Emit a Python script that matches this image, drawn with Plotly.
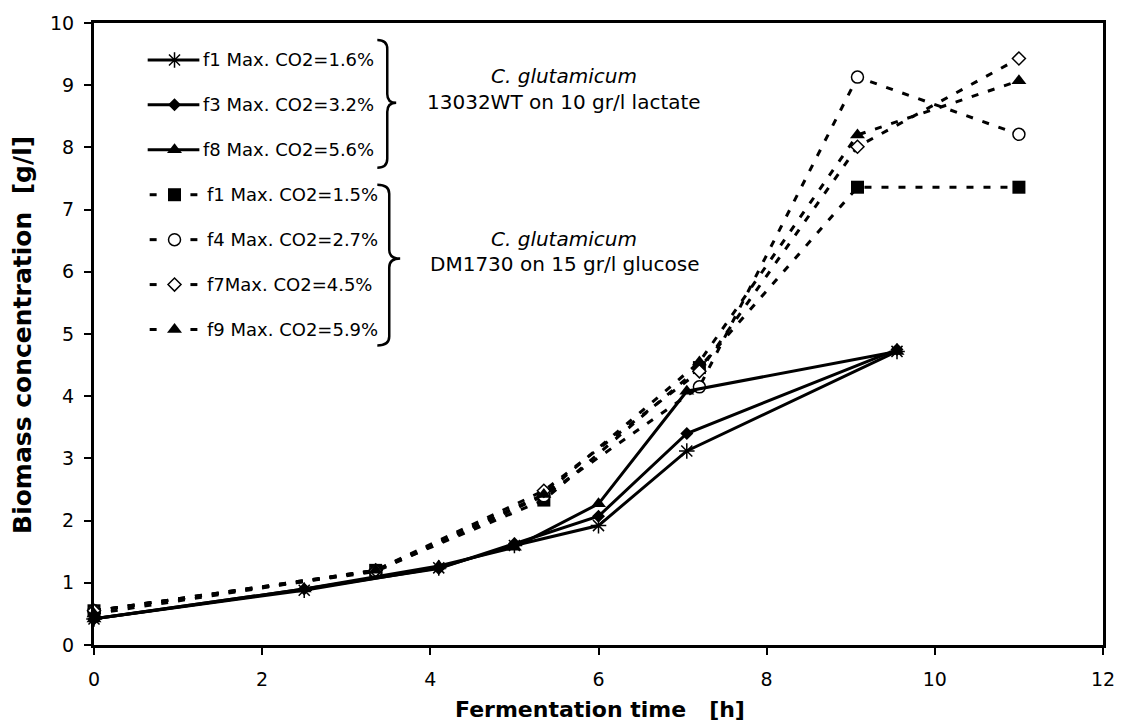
import plotly.graph_objects as go

# ---------------- data ----------------
lac_time = [0, 2.5, 4.1, 5.0, 6.0, 7.05, 9.55]
lac_f1 = [0.42, 0.88, 1.24, 1.60, 1.92, 3.12, 4.72]
lac_f3 = [0.42, 0.90, 1.23, 1.63, 2.07, 3.40, 4.75]
lac_f8 = [0.42, 0.90, 1.27, 1.57, 2.27, 4.08, 4.72]

glc_time = [0, 3.35, 5.35, 7.2, 9.08, 11.0]
glc_f1 = [0.55, 1.20, 2.33, 4.46, 7.36, 7.36]
glc_f4 = [0.55, 1.18, 2.40, 4.15, 9.13, 8.21]
glc_f7 = [0.55, 1.20, 2.48, 4.40, 8.01, 9.43]
glc_f9 = [0.50, 1.20, 2.42, 4.55, 8.20, 9.07]

lac_names = ["f1 Max. CO2=1.6%", "f3 Max. CO2=3.2%", "f8 Max. CO2=5.6%"]
glc_names = ["f1 Max. CO2=1.5%", "f4 Max. CO2=2.7%", "f7Max. CO2=4.5%", "f9 Max. CO2=5.9%"]
x_ticks = [0, 2, 4, 6, 8, 10, 12]
y_ticks = list(range(0, 11))

FONT = "DejaVu Sans, Arial, sans-serif"
W, H = 1127, 725
ML, MR, MT, MB = 94, 18, 22, 80
PW, PH = W - ML - MR, H - MT - MB


def px(x):
    return (x - ML) / PW


def py(y):
    return (H - MB - y) / PH


# marker styles
lac_markers = [
    dict(symbol="asterisk-open", size=13, color="black", line=dict(color="black", width=1.5)),
    dict(symbol="diamond", size=10, color="black", line=dict(color="black", width=0)),
    dict(symbol="triangle-up", size=13, color="black", line=dict(color="black", width=0)),
]
glc_markers = [
    dict(symbol="square", size=13, color="black", line=dict(color="black", width=0)),
    dict(symbol="circle", size=12, color="white", line=dict(color="black", width=1.5)),
    dict(symbol="diamond", size=10, color="white", line=dict(color="black", width=1.5)),
    dict(symbol="triangle-up", size=13, color="black", line=dict(color="black", width=0)),
]

fig = go.Figure()

glc_series = [glc_f1, glc_f4, glc_f7, glc_f9]
for name, ys, mk in zip(glc_names, glc_series, glc_markers):
    fig.add_trace(go.Scatter(
        x=glc_time, y=ys, mode="lines+markers", name=name, showlegend=False,
        line=dict(color="black", width=3, dash="7px,10px"), marker=mk, cliponaxis=False))

lac_series = [lac_f1, lac_f3, lac_f8]
for name, ys, mk in zip(lac_names, lac_series, lac_markers):
    fig.add_trace(go.Scatter(
        x=lac_time, y=ys, mode="lines+markers", name=name, showlegend=False,
        line=dict(color="black", width=3), marker=mk, cliponaxis=False))

# ---------------- manual legend (pixel overlay axes) ----------------
row0, step = 59, 45
sx0, sx1, smid = 148, 200, 175
annotations = []
all_names = lac_names + glc_names
all_markers = lac_markers + glc_markers
for i, (nm, mk) in enumerate(zip(all_names, all_markers)):
    yy = row0 + i * step
    if i < 3:
        lx = [sx0, sx1]
        ly = [yy, yy]
        tx = 202
    else:
        lx = [150, 157, None, 191, 198]
        ly = [yy, yy, None, yy, yy]
        tx = 206
    fig.add_trace(go.Scatter(x=lx, y=ly, xaxis="x2", yaxis="y2", mode="lines",
                             line=dict(color="black", width=3), showlegend=False,
                             hoverinfo="skip", cliponaxis=False))
    fig.add_trace(go.Scatter(x=[smid], y=[yy], xaxis="x2", yaxis="y2", mode="markers",
                             marker=mk, showlegend=False, hoverinfo="skip", cliponaxis=False))
    annotations.append(dict(x=px(tx), y=py(yy), xref="paper", yref="paper", text=nm,
                            showarrow=False, xanchor="left", yanchor="middle",
                            font=dict(family=FONT, size=18, color="black")))


def brace(x_end, x_stem, x_tip, y_top, y_mid, y_bot, r=9):
    return (f"M {x_end},{y_top} Q {x_stem},{y_top} {x_stem},{y_top + r} "
            f"L {x_stem},{y_mid - r} Q {x_stem},{y_mid} {x_tip},{y_mid} "
            f"Q {x_stem},{y_mid} {x_stem},{y_mid + r} "
            f"L {x_stem},{y_bot - r} Q {x_stem},{y_bot} {x_end},{y_bot}")


shapes = [
    dict(type="path", xref="x2", yref="y2", path=brace(379, 389, 398, 39, 102, 167),
         line=dict(color="black", width=2.5)),
    dict(type="path", xref="x2", yref="y2", path=brace(379, 391, 402, 184, 258, 345),
         line=dict(color="black", width=2.5)),
]

txt_font = dict(family=FONT, size=20, color="black")
group_text = [
    (75, "<i>C. glutamicum</i>"), (101, "13032WT on 10 gr/l lactate"),
    (238, "<i>C. glutamicum</i>"), (263, "DM1730 on 15 gr/l glucose"),
]
for yy, t in group_text:
    annotations.append(dict(x=px(567), y=py(yy), xref="paper", yref="paper", text=t,
                            showarrow=False, xanchor="center", yanchor="middle", font=txt_font))

# axis titles
annotations.append(dict(x=px(603), y=py(710), xref="paper", yref="paper",
                        text="<b>Fermentation time   [h]</b>",
                        showarrow=False, xanchor="center", yanchor="middle",
                        font=dict(family=FONT, size=22, color="black")))
annotations.append(dict(x=px(22), y=py(334), xref="paper", yref="paper",
                        text="<b>Biomass concentration  [g/l]</b>",
                        showarrow=False, xanchor="center", yanchor="middle", textangle=-90,
                        font=dict(family=FONT, size=25, color="black")))

fig.update_layout(
    width=W, height=H,
    margin=dict(l=ML, r=MR, t=MT, b=MB, pad=0),
    paper_bgcolor="white", plot_bgcolor="white",
    showlegend=False,
    xaxis=dict(range=[0, 12], tickvals=x_ticks, ticktext=[str(v) for v in x_ticks],
               showgrid=False, zeroline=False, showline=True, linecolor="black", linewidth=3,
               mirror=True, ticks="outside", ticklen=7, tickwidth=1.5, tickcolor="black",
               tickfont=dict(family=FONT, size=19, color="black"), ticklabelstandoff=8),
    yaxis=dict(range=[0, 10], tickvals=y_ticks, ticktext=[str(v) for v in y_ticks],
               showgrid=False, zeroline=False, showline=True, linecolor="black", linewidth=3,
               mirror=True, ticks="outside", ticklen=7, tickwidth=1.5, tickcolor="black",
               tickfont=dict(family=FONT, size=19, color="black"), ticklabelstandoff=6),
    xaxis2=dict(overlaying="x", range=[ML, W - MR], visible=False, fixedrange=True),
    yaxis2=dict(overlaying="y", range=[H - MB, MT], visible=False, fixedrange=True),
    shapes=shapes,
    annotations=annotations,
)

fig.write_html("out.html")
